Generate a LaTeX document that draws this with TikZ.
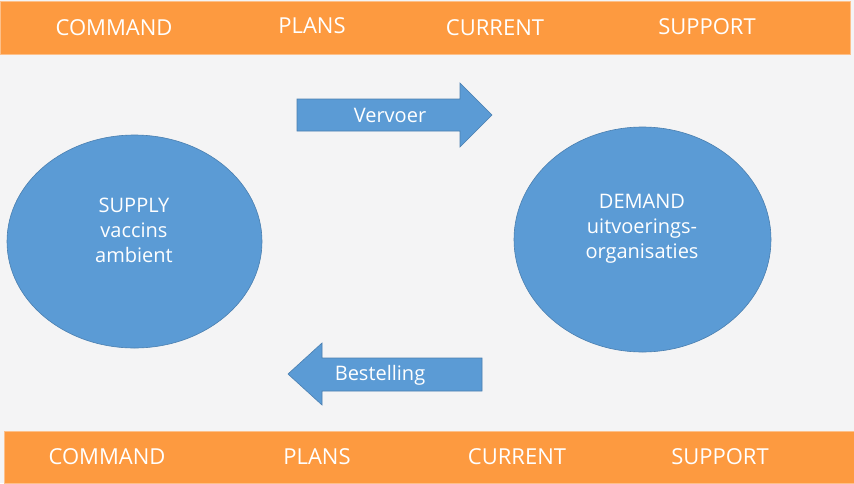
\documentclass[tikz,border=0pt]{standalone}
\usepackage{fontspec}
\setmainfont{Open Sans}
\usetikzlibrary{shapes.geometric}
\definecolor{bg}{HTML}{F4F4F5}
\definecolor{orng}{HTML}{FD9A40}
\definecolor{orngedge}{HTML}{FDC08A}
\definecolor{blu}{HTML}{5B9BD5}
\definecolor{bluedge}{HTML}{4A7FB0}
\begin{document}
\begin{tikzpicture}[x=1pt,y=-1pt,
  bar/.style={fill=orng,draw=orngedge,line width=0.8pt},
  bartext/.style={text=white,font=\fontsize{22}{25}\selectfont,inner sep=0pt},
  blob/.style={ellipse,fill=blu,draw=bluedge,line width=0.6pt,inner sep=0pt},
  blobtext/.style={text=white,font=\fontsize{20}{25}\selectfont,align=center,inner sep=0pt},
  arrowshape/.style={fill=blu,draw=bluedge,line width=0.6pt,line join=miter},
  arrowtext/.style={text=white,font=\fontsize{20}{24}\selectfont,inner sep=0pt}]
\useasboundingbox (0,0) rectangle (854,483);
\fill[bg] (0,0) rectangle (854,483);
% bars
\draw[bar] (0,1) rectangle (850,54);
\draw[bar] (4,431) rectangle (854,483);
\node[bartext] (tcommand) at (114,28) {COMMAND};
\node[bartext] (tplans) at (312,26) {PLANS};
\node[bartext] (tcurrent) at (495,28) {CURRENT};
\node[bartext] (tsupport) at (707,27) {SUPPORT};
\node[bartext] (bcommand) at (107,457) {COMMAND};
\node[bartext] (bplans) at (317,457) {PLANS};
\node[bartext] (bcurrent) at (517,457) {CURRENT};
\node[bartext] (bsupport) at (720,457) {SUPPORT};
% ellipses
\node[blob,minimum width=255pt,minimum height=213pt] (supply) at (134.5,241.5) {};
\node[blob,minimum width=257pt,minimum height=225pt] (demand) at (642.5,239.5) {};
\node[blobtext] (supplytxt) at (134,230) {SUPPLY\\vaccins\\ambient};
\node[blobtext] (demandtxt) at (642,229) {DEMAND\\uitvoerings-\\organisaties};
% arrows
\draw[arrowshape] (297,99) -- (460,99) -- (460,83) -- (492,115) -- (460,147) -- (460,131) -- (297,131) -- cycle;
\node[arrowtext] (vervoer) at (390,115) {Vervoer};
\draw[arrowshape] (482,358) -- (322,358) -- (322,343) -- (288,374) -- (322,405) -- (322,391) -- (482,391) -- cycle;
\node[arrowtext] (bestelling) at (380,375) {Bestelling};
\end{tikzpicture}
\end{document}
